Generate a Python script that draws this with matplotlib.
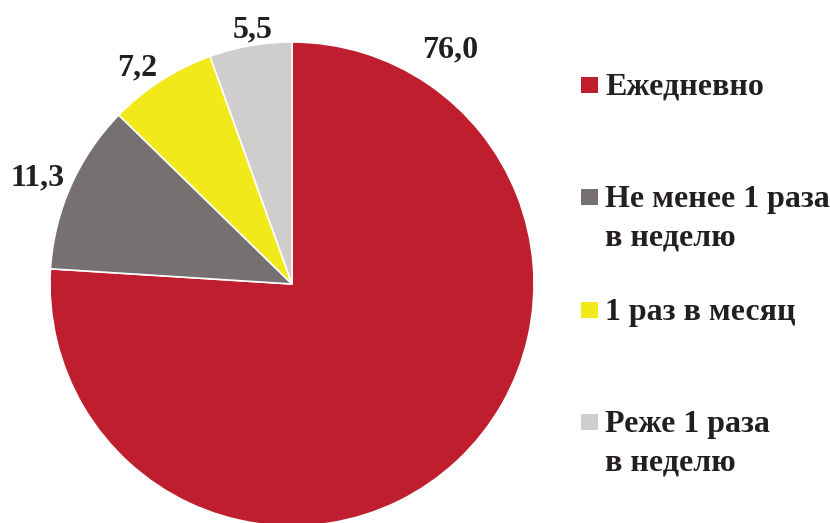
import matplotlib.pyplot as plt
from matplotlib.patches import Rectangle

# Data
categories = ["Ежедневно", "Не менее 1 раза\nв неделю", "1 раз в месяц", "Реже 1 раза\nв неделю"]
values = [76.0, 11.3, 7.2, 5.5]
value_labels = ["76,0", "11,3", "7,2", "5,5"]
colors = ["#BE1E2D", "#767170", "#F2E91B", "#D0CECD"]

W, H = 830, 523
TEXT_COLOR = "#231F20"
plt.rcParams["font.family"] = ["Liberation Serif", "DejaVu Serif"]


def fx(x):
    return x / W


def fy(y):
    return 1 - y / H


fig = plt.figure(figsize=(W / 100, H / 100), dpi=100)

# pie centre at (292, 284) px, radius 242 px
cx, cy, r = 292, 284, 242
ax = fig.add_axes([fx(cx - r), fy(cy + r), 2 * r / W, 2 * r / H])
wedges, _ = ax.pie(values, colors=colors, startangle=90, counterclock=False,
                   radius=1, wedgeprops=dict(edgecolor="white", linewidth=1.2))
for w in wedges:
    w.set_clip_on(False)
ax.set_xlim(-1, 1)
ax.set_ylim(-1, 1)
ax.axis("off")

# value labels (pixel positions: centre x, baseline y)
label_pos = [(450, 57), (38, 185), (137, 75), (253, 37)]
for txt, (x, y) in zip(value_labels, label_pos):
    fig.text(fx(x), fy(y), txt, ha="center", va="baseline", fontsize=23,
             fontweight="bold", color=TEXT_COLOR)

# legend
legend_base = [95, 207, 320, 432]
line_gap = 38
for cat, col, y in zip(categories, colors, legend_base):
    fig.add_artist(Rectangle((fx(581), fy(y - 2)), 17 / W, 16 / H,
                             transform=fig.transFigure, facecolor=col,
                             edgecolor="none"))
    for i, line in enumerate(cat.split("\n")):
        fig.text(fx(605), fy(y + i * line_gap), line, ha="left", va="baseline",
                 fontsize=23, fontweight="bold", color=TEXT_COLOR)

fig.savefig("out.png", dpi=100)
